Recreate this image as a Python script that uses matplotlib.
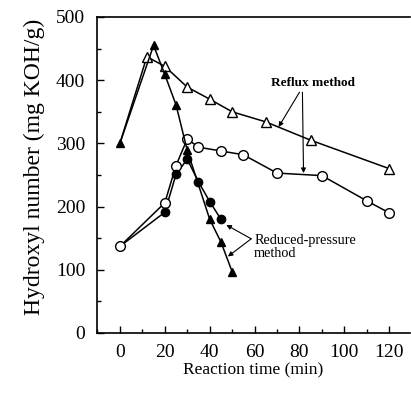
import matplotlib.pyplot as plt
from matplotlib.ticker import MultipleLocator

plt.rcParams['font.family'] = ['Liberation Serif', 'DejaVu Serif']

# reflux method
reflux_tri_t = [0, 12, 20, 30, 40, 50, 65, 85, 120]
reflux_tri_y = [300, 437, 422, 389, 370, 350, 334, 305, 260]
reflux_circ_t = [0, 20, 25, 30, 35, 45, 55, 70, 90, 110, 120]
reflux_circ_y = [137, 206, 265, 307, 294, 288, 282, 253, 249, 209, 190]

# reduced-pressure method
reduced_tri_t = [0, 15, 20, 25, 30, 40, 45, 50]
reduced_tri_y = [300, 455, 409, 361, 289, 180, 144, 97]
reduced_circ_t = [0, 20, 25, 30, 35, 40, 45]
reduced_circ_y = [137, 191, 251, 275, 239, 208, 180]

fig = plt.figure(figsize=(4.11, 3.95), dpi=100)
ax = fig.add_axes([0.236, 0.157, 0.762, 0.8])

lw = 1.1
ax.plot(reflux_tri_t[1:], reflux_tri_y[1:], '^', mfc='white', mec='black', ms=7, mew=1.0, zorder=3)
ax.plot(reflux_tri_t, reflux_tri_y, '-', color='black', lw=lw, zorder=2)
ax.plot(reflux_circ_t, reflux_circ_y, 'o-', color='black', mfc='white', mec='black', ms=7, mew=1.0, lw=lw, zorder=2)
ax.plot(reduced_tri_t, reduced_tri_y, '^-', color='black', ms=6, lw=lw, zorder=4)
ax.plot(reduced_circ_t[1:], reduced_circ_y[1:], 'o', color='black', ms=6, zorder=4)
ax.plot(reduced_circ_t, reduced_circ_y, '-', color='black', lw=lw, zorder=1)

ax.set_xlim(-10.2, 129.3)
ax.set_ylim(0, 500)
ax.xaxis.set_major_locator(MultipleLocator(20))
ax.xaxis.set_minor_locator(MultipleLocator(10))
ax.yaxis.set_major_locator(MultipleLocator(100))
ax.yaxis.set_minor_locator(MultipleLocator(50))
ax.tick_params(which='both', direction='in', top=False, right=False, labelsize=14, width=1.0)
ax.tick_params(which='major', length=5)
ax.tick_params(which='minor', length=3)
ax.tick_params(axis='x', pad=8)
ax.tick_params(axis='y', pad=8.5)
ax.spines['right'].set_visible(False)
for s in ['left', 'top', 'bottom']:
    ax.spines[s].set_linewidth(1.2)

ax.set_xlabel('Reaction time (min)', fontsize=12.5, labelpad=1)
ax.set_ylabel('Hydroxyl number (mg KOH/g)', fontsize=17, labelpad=8)
ax.yaxis.label.set_y(0.525)

arrow = dict(arrowstyle='-|>', color='black', lw=0.8, mutation_scale=7, shrinkA=0, shrinkB=0)
ax.text(85.8, 396, 'Reflux method', fontsize=9.5, fontweight='bold', ha='center', va='center')
ax.annotate('', xy=(70.7, 326), xytext=(80, 381), arrowprops=arrow)
ax.annotate('', xy=(81.8, 253), xytext=(81.3, 381), arrowprops=arrow)

ax.text(59.8, 157, 'Reduced-pressure\nmethod', fontsize=10.3, ha='left', va='top', linespacing=1.0)
ax.annotate('', xy=(47.4, 171), xytext=(58.5, 149), arrowprops=arrow)
ax.annotate('', xy=(48.1, 121), xytext=(58.5, 149), arrowprops=arrow)

fig.savefig('out.png', dpi=100)
